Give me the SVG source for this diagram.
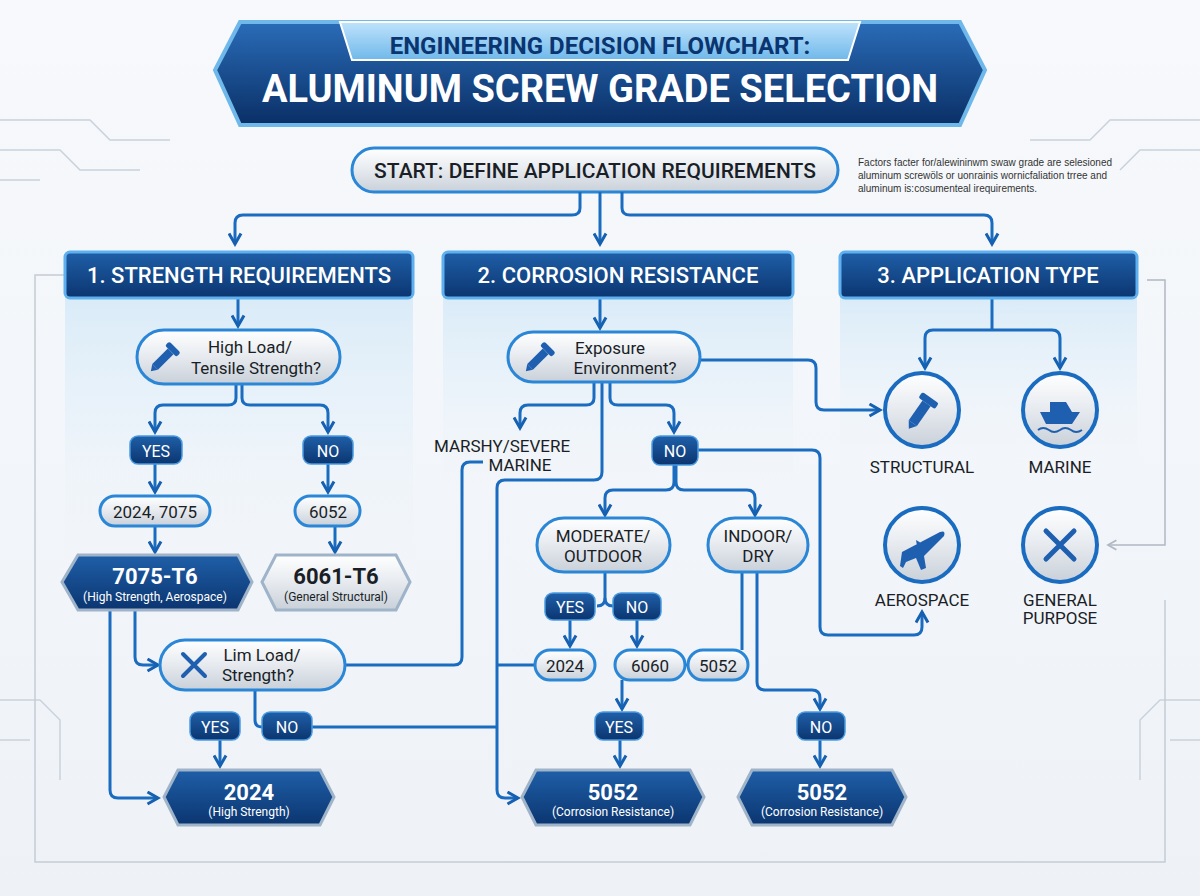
<svg xmlns="http://www.w3.org/2000/svg" width="1200" height="896" viewBox="0 0 1200 896">
<defs>
<linearGradient id="bg" x1="0" y1="0" x2="0" y2="1"><stop offset="0" stop-color="#f7f9fc"/><stop offset="1" stop-color="#eef2f7"/></linearGradient>
<linearGradient id="dark" x1="0" y1="0" x2="0" y2="1"><stop offset="0" stop-color="#1f5fa8"/><stop offset="1" stop-color="#0b3570"/></linearGradient>
<linearGradient id="silver" x1="0" y1="0" x2="0" y2="1"><stop offset="0" stop-color="#ffffff"/><stop offset="0.5" stop-color="#e6eaef"/><stop offset="1" stop-color="#c9d0d9"/></linearGradient>
<linearGradient id="panel" x1="0" y1="0" x2="0" y2="1"><stop offset="0" stop-color="#d9ebf8"/><stop offset="1" stop-color="#eef5fb" stop-opacity="0"/></linearGradient>
<linearGradient id="banner" x1="0" y1="0" x2="0" y2="1"><stop offset="0" stop-color="#2a6cb8"/><stop offset="1" stop-color="#0a2f66"/></linearGradient>
<linearGradient id="tab" x1="0" y1="0" x2="0" y2="1"><stop offset="0" stop-color="#bfe3fb"/><stop offset="1" stop-color="#6fb8ea"/></linearGradient>
<marker id="ar" viewBox="0 0 10 10" refX="8" refY="5" markerWidth="5" markerHeight="5" orient="auto"><path d="M1,1 L8,5 L1,9" fill="none" stroke="#1560b0" stroke-width="2"/></marker>
<marker id="arg" viewBox="0 0 10 10" refX="8" refY="5" markerWidth="8" markerHeight="8" orient="auto"><path d="M1,1 L8,5 L1,9" fill="none" stroke="#b0b8c2" stroke-width="1.5"/></marker>
<style>
.c{fill:none;stroke:#1a6cc0;stroke-width:3;stroke-linejoin:round}
.ca{fill:none;stroke:#1a6cc0;stroke-width:3;stroke-linejoin:round;marker-end:url(#ar)}
.pill{fill:url(#silver);stroke:#2a86d6;stroke-width:3}
.badge{fill:url(#dark);stroke:#4a9be0;stroke-width:1.5}
.hdr{fill:url(#dark);stroke:#5fb0ef;stroke-width:3}
.t{font-family:"Roboto","Liberation Sans",sans-serif;fill:#1a1e26;text-anchor:middle}
.w{font-family:"Roboto","Liberation Sans",sans-serif;fill:#ffffff;text-anchor:middle}
.circ{fill:url(#silver);stroke:#1a6cc0;stroke-width:4}
.deco{fill:none;stroke:#c9d2dc;stroke-width:1.5}
</style>
</defs>
<rect width="1200" height="896" fill="url(#bg)"/>
<g id="decor">
<path class="deco" d="M0,120 H90 L110,140 H170 M0,150 H60 L80,170 H140 M0,180 H40 M1200,120 H1110 L1090,140 H1030 M1200,150 H1140 L1120,170 M0,700 H40 L60,720 V780 M0,740 H30 M1200,700 H1160 L1140,720 V780 M1200,740 H1170"/>
<path d="M65,275 H35 V862 H1165 V600" fill="none" stroke="#c4ccd5" stroke-width="1.5"/>
</g>
<g id="panels">
<rect x="65" y="295" width="348" height="270" fill="url(#panel)"/>
<rect x="443" y="295" width="350" height="200" fill="url(#panel)"/>
<rect x="840" y="295" width="297" height="170" fill="url(#panel)"/>
</g>
<g id="title">
<path d="M240,22 H960 L985,70 L960,125 H240 L215,70 Z" fill="url(#banner)" stroke="#6fb8ea" stroke-width="4"/>
<path d="M340,22 H860 L848,60 H352 Z" fill="url(#tab)" stroke="#ffffff" stroke-width="2"/>
<text class="t" x="600" y="54" font-size="24" font-weight="bold" style="fill:#0b3570">ENGINEERING DECISION FLOWCHART:</text>
<text class="w" x="600" y="102" font-size="38" font-weight="bold">ALUMINUM SCREW GRADE SELECTION</text>
</g>
<g id="start">
<rect class="pill" x="352" y="148" width="486" height="44" rx="22"/>
<text class="t" x="595" y="178" font-size="21" font-weight="500">START: DEFINE APPLICATION REQUIREMENTS</text>
</g>
<g id="note" font-family="Liberation Sans,sans-serif" font-size="10" fill="#333">
<text x="858" y="166">Factors facter for/alewininwm swaw grade are selesioned</text>
<text x="858" y="179">aluminum screwöls or uonrainis wornicfaliation trree and</text>
<text x="858" y="192">aluminum is:cosumenteal irequirements.</text>
</g>
<g id="connectors">
<path class="ca" d="M580,192 V208 Q580,215 572,215 H243 Q235,215 235,223 V244"/>
<path class="ca" d="M600,192 V244"/>
<path class="ca" d="M622,192 V208 Q622,215 630,215 H984 Q992,215 992,223 V244"/>
<path class="ca" d="M238,298 V326"/>
<path class="ca" d="M600,298 V328"/>
<path class="c" d="M992,298 V330"/>
<path class="ca" d="M992,330 H933 Q925,330 925,338 V368"/>
<path class="ca" d="M992,330 H1052 Q1060,330 1060,338 V368"/>
<path class="ca" d="M236,384 V398 Q236,405 228,405 H163 Q155,405 155,413 V432"/>
<path class="ca" d="M242,384 V398 Q242,405 250,405 H320 Q328,405 328,413 V432"/>
<path class="ca" d="M155,464 V492"/>
<path class="ca" d="M328,464 V492"/>
<path class="ca" d="M155,526 V552"/>
<path class="ca" d="M335,526 V552"/>
<path class="ca" d="M135,610 V657 Q135,665 143,665 H158"/>
<path class="ca" d="M110,610 V790 Q110,798 118,798 H158"/>
<path class="c" d="M345,665 H454 Q462,665 462,657 V470 Q462,462 470,462 H483"/>
<path class="ca" d="M220,740 V766"/>
<path class="c" d="M255,690 V720 Q255,727 262,727"/>
<path class="c" d="M312,727 H497"/>
<path class="ca" d="M594,382 V398 Q594,405 586,405 H528 Q520,405 520,413 V428"/>
<path class="ca" d="M610,382 V398 Q610,405 618,405 H666 Q674,405 674,413 V432"/>
<path class="ca" d="M602,382 V472 Q602,480 594,480 H505 Q497,480 497,488 V790 Q497,798 505,798 H518"/>
<path class="ca" d="M700,360 H808 Q816,360 816,368 V402 Q816,410 824,410 H880"/>
<path class="ca" d="M697,450 H812 Q820,450 820,458 V627 Q820,635 828,635 H914 Q922,635 922,627 V612"/>
<path class="ca" d="M674,465 V482 Q674,490 666,490 H613 Q605,490 605,498 V515"/>
<path class="ca" d="M676,465 V482 Q676,490 684,490 H747 Q755,490 755,498 V515"/>
<path class="c" d="M605,572 V598 Q605,606 597,606"/>
<path class="c" d="M605,598 Q605,606 613,606"/>
<path class="ca" d="M570,620 V646"/>
<path class="ca" d="M637,620 V646"/>
<path class="c" d="M535,665 H497"/>
<path class="c" d="M685,665 H688"/>
<path class="c" d="M742,572 V650"/>
<path class="ca" d="M757,572 V682 Q757,690 765,690 H812 Q820,690 820,698 V709"/>
<path class="ca" d="M622,680 V709"/>
<path class="ca" d="M620,740 V766"/>
<path class="ca" d="M820,740 V766"/>
<path d="M1147,280 H1165 V545 H1108" fill="none" stroke="#b0b8c2" stroke-width="1.5" marker-end="url(#arg)"/>
</g>
<g id="hdr1"><rect class="hdr" x="65" y="252" width="348" height="46" rx="5"/><text class="w" x="239" y="283" font-size="22" font-weight="500">1. STRENGTH REQUIREMENTS</text></g>
<g id="hdr2"><rect class="hdr" x="443" y="252" width="350" height="46" rx="5"/><text class="w" x="618" y="283" font-size="22" font-weight="500">2. CORROSION RESISTANCE</text></g>
<g id="hdr3"><rect class="hdr" x="840" y="252" width="297" height="46" rx="5"/><text class="w" x="988" y="283" font-size="22" font-weight="500">3. APPLICATION TYPE</text></g>
<g id="q1">
<rect class="pill" x="137" y="330" width="203" height="54" rx="27"/>
<g transform="translate(165,357) rotate(-45)" fill="#1e5fb0"><rect x="-14" y="-4" width="22" height="8"/><rect x="8" y="-8" width="6" height="16" rx="2"/><path d="M-14,-4 L-20,0 L-14,4Z"/></g>
<text class="t" x="250" y="353" font-size="17">High Load/</text>
<text class="t" x="256" y="374" font-size="17">Tensile Strength?</text>
</g>
<g id="yes1"><rect class="badge" x="130" y="436" width="52" height="28" rx="8"/><text class="w" x="156" y="457" font-size="16">YES</text></g>
<g id="no1"><rect class="badge" x="303" y="436" width="50" height="28" rx="8"/><text class="w" x="328" y="457" font-size="16">NO</text></g>
<g id="g2024_7075"><rect class="pill" x="100" y="496" width="110" height="30" rx="15"/><text class="t" x="155" y="518" font-size="17">2024, 7075</text></g>
<g id="g6052"><rect class="pill" x="295" y="496" width="65" height="30" rx="15"/><text class="t" x="328" y="518" font-size="17">6052</text></g>
<g id="h7075"><path d="M78,555 H238 L252,582 L238,610 H78 L62,582Z" fill="url(#dark)" stroke="#9fb4c9" stroke-width="3"/><text class="w" x="155" y="584" font-size="22" font-weight="bold">7075-T6</text><text class="w" x="155" y="601" font-size="12">(High Strength, Aerospace)</text></g>
<g id="h6061"><path d="M276,555 H396 L410,582 L396,610 H276 L262,582Z" fill="url(#silver)" stroke="#9fb4c9" stroke-width="3"/><text class="t" x="336" y="584" font-size="22" font-weight="bold">6061-T6</text><text class="t" x="336" y="601" font-size="12">(General Structural)</text></g>
<g id="q2">
<rect class="pill" x="160" y="640" width="185" height="50" rx="25"/>
<g transform="translate(194,665)" stroke="#1e5fb0" stroke-width="4" stroke-linecap="round"><path d="M-11,-11 L11,11 M11,-11 L-11,11"/></g>
<text class="t" x="262" y="661" font-size="17">Lim Load/</text>
<text class="t" x="258" y="681" font-size="17">Strength?</text>
</g>
<g id="yes2"><rect class="badge" x="190" y="712" width="50" height="28" rx="8"/><text class="w" x="215" y="733" font-size="16">YES</text></g>
<g id="no2"><rect class="badge" x="262" y="712" width="50" height="28" rx="8"/><text class="w" x="287" y="733" font-size="16">NO</text></g>
<g id="h2024"><path d="M178,770 H320 L334,797 L320,825 H178 L164,797Z" fill="url(#dark)" stroke="#9fb4c9" stroke-width="3"/><text class="w" x="249" y="800" font-size="22" font-weight="bold">2024</text><text class="w" x="249" y="816" font-size="12">(High Strength)</text></g>
<g id="q3">
<rect class="pill" x="508" y="332" width="192" height="50" rx="25"/>
<g transform="translate(540,357) rotate(-45)" fill="#1e5fb0"><rect x="-14" y="-4" width="22" height="8"/><rect x="8" y="-8" width="6" height="16" rx="2"/><path d="M-14,-4 L-20,0 L-14,4Z"/></g>
<text class="t" x="610" y="354" font-size="17">Exposure</text>
<text class="t" x="625" y="374" font-size="17">Environment?</text>
</g>
<g id="marshy"><text class="t" x="502" y="452" font-size="17">MARSHY/SEVERE</text><text class="t" x="520" y="471" font-size="17">MARINE</text></g>
<g id="no3"><rect class="badge" x="652" y="436" width="46" height="29" rx="8"/><text class="w" x="675" y="457" font-size="16">NO</text></g>
<g id="moderate"><rect class="pill" x="537" y="518" width="133" height="54" rx="27"/><text class="t" x="603" y="542" font-size="17">MODERATE/</text><text class="t" x="603" y="562" font-size="17">OUTDOOR</text></g>
<g id="indoor"><rect class="pill" x="708" y="518" width="100" height="54" rx="27"/><text class="t" x="758" y="542" font-size="17">INDOOR/</text><text class="t" x="758" y="562" font-size="17">DRY</text></g>
<g id="yes4"><rect class="badge" x="545" y="593" width="50" height="27" rx="8"/><text class="w" x="570" y="613" font-size="16">YES</text></g>
<g id="no4"><rect class="badge" x="613" y="593" width="48" height="27" rx="8"/><text class="w" x="637" y="613" font-size="16">NO</text></g>
<g id="p2024"><rect class="pill" x="535" y="650" width="60" height="30" rx="15"/><text class="t" x="565" y="672" font-size="17">2024</text></g>
<g id="p6060"><rect class="pill" x="615" y="650" width="70" height="30" rx="15"/><text class="t" x="650" y="672" font-size="17">6060</text></g>
<g id="p5052"><rect class="pill" x="688" y="650" width="60" height="30" rx="15"/><text class="t" x="718" y="672" font-size="17">5052</text></g>
<g id="yes5"><rect class="badge" x="595" y="712" width="48" height="28" rx="8"/><text class="w" x="619" y="733" font-size="16">YES</text></g>
<g id="no5"><rect class="badge" x="797" y="712" width="48" height="28" rx="8"/><text class="w" x="821" y="733" font-size="16">NO</text></g>
<g id="h5052a"><path d="M536,770 H690 L704,797 L690,825 H536 L522,797Z" fill="url(#dark)" stroke="#9fb4c9" stroke-width="3"/><text class="w" x="613" y="800" font-size="22" font-weight="bold">5052</text><text class="w" x="613" y="816" font-size="12">(Corrosion Resistance)</text></g>
<g id="h5052b"><path d="M752,770 H892 L906,797 L892,825 H752 L738,797Z" fill="url(#dark)" stroke="#9fb4c9" stroke-width="3"/><text class="w" x="822" y="800" font-size="22" font-weight="bold">5052</text><text class="w" x="822" y="816" font-size="12">(Corrosion Resistance)</text></g>
<g id="structural"><circle class="circ" cx="922" cy="410" r="37"/><g transform="translate(922,410) rotate(-55)" fill="#1e5fb0"><rect x="-16" y="-5" width="24" height="10"/><rect x="8" y="-10" width="7" height="20" rx="2"/><path d="M-16,-5 L-23,0 L-16,5Z"/></g><text class="t" x="922" y="473" font-size="17">STRUCTURAL</text></g>
<g id="marine"><circle class="circ" cx="1060" cy="410" r="37"/><path d="M1040,412 H1080 L1072,424 H1046Z M1050,412 V402 H1066 L1072,412" fill="#1e5fb0"/><path d="M1038,430 q5,-4 11,0 q5,4 11,0 q5,-4 11,0 q5,4 11,0" fill="none" stroke="#1e5fb0" stroke-width="2"/><text class="t" x="1060" y="473" font-size="17">MARINE</text></g>
<g id="aerospace"><circle class="circ" cx="922" cy="545" r="37"/><path d="M902,552 L940,532 Q946,530 944,536 L924,556 L926,568 L921,570 L916,558 L906,562 L903,568 L900,566 Z M916,540 L926,546 L918,552Z" fill="#1e5fb0"/><text class="t" x="922" y="606" font-size="17">AEROSPACE</text></g>
<g id="general"><circle class="circ" cx="1060" cy="545" r="37"/><g stroke="#1e5fb0" stroke-width="5" stroke-linecap="round"><path d="M1046,531 L1074,559 M1074,531 L1046,559"/></g><text class="t" x="1060" y="606" font-size="17">GENERAL</text><text class="t" x="1060" y="624" font-size="17">PURPOSE</text></g>
</svg>
